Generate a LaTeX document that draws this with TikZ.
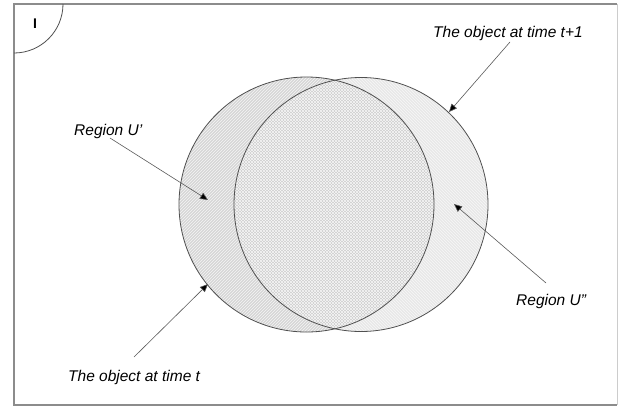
\documentclass[tikz,border=0pt]{standalone}
\usepackage{fontspec}
\setmainfont{Liberation Sans}
\usetikzlibrary{patterns,arrows.meta}
\definecolor{framegray}{HTML}{8C8C8C}
\definecolor{circline}{HTML}{505050}
\definecolor{leftfill}{HTML}{D6D6D6}
\definecolor{rightfill}{HTML}{E8E8E8}
\definecolor{midfill}{HTML}{CDCDCD}
\tikzset{
  lbl/.style={font=\fontsize{15.5}{18}\selectfont\itshape, inner sep=0pt, anchor=base west},
  pointer/.style={draw=black!65, line width=0.6pt, -{Triangle[length=8pt,width=7pt,fill=black]}},
  circ/.style={draw=circline, line width=0.8pt}
}
\begin{document}
\begin{tikzpicture}[x=1pt,y=-1pt]
\useasboundingbox (0,0) rectangle (618,408);
% frame
\draw[framegray, line width=1.5pt] (617,4) -- (14,4) -- (14,405) -- (617,405);
\draw[black!20, line width=0.8pt] (617,4) -- (617,405);
% corner quarter circle
\draw[circline, line width=0.8pt] (63,4) arc[start angle=0, end angle=90, radius=49];
\node[font=\bfseries\fontsize{14}{16}\selectfont, inner sep=0pt] (lab) at (35,24) {I};
% circles
\coordinate (cl) at (306.5,204.5);
\coordinate (cr) at (361,204.5);
\fill[leftfill] (cl) circle[radius=127.5];
\fill[rightfill] (cr) circle[radius=127];
\begin{scope}
  \clip (cl) circle[radius=127.5];
  \fill[midfill] (cr) circle[radius=127];
\end{scope}
\pattern[pattern=north east lines, pattern color=white!75!leftfill] (cl) circle[radius=127.5];
\pattern[pattern=north west lines, pattern color=white!65!rightfill] (cr) circle[radius=127];
\draw[circ] (cl) circle[radius=127.5];
\draw[circ] (cr) circle[radius=127];
% labels
\node[lbl] (t1) at (433,37) {The object at time t+1};
\node[lbl] (ru1) at (74,135) {Region U’};
\node[lbl] (tt) at (68,381) {The object at time t};
\node[lbl] (ru2) at (516,305) {Region U”};
% arrow endpoints
\coordinate (a1s) at (510,42);  \coordinate (a1e) at (449,112);
\coordinate (a2s) at (110,138); \coordinate (a2e) at (208,200);
\coordinate (a3s) at (134,357); \coordinate (a3e) at (208,284);
\coordinate (a4s) at (546,283); \coordinate (a4e) at (454,204);
\draw[pointer] (a1s) -- (a1e);
\draw[pointer] (a2s) -- (a2e);
\draw[pointer] (a3s) -- (a3e);
\draw[pointer] (a4s) -- (a4e);
\end{tikzpicture}
\end{document}
